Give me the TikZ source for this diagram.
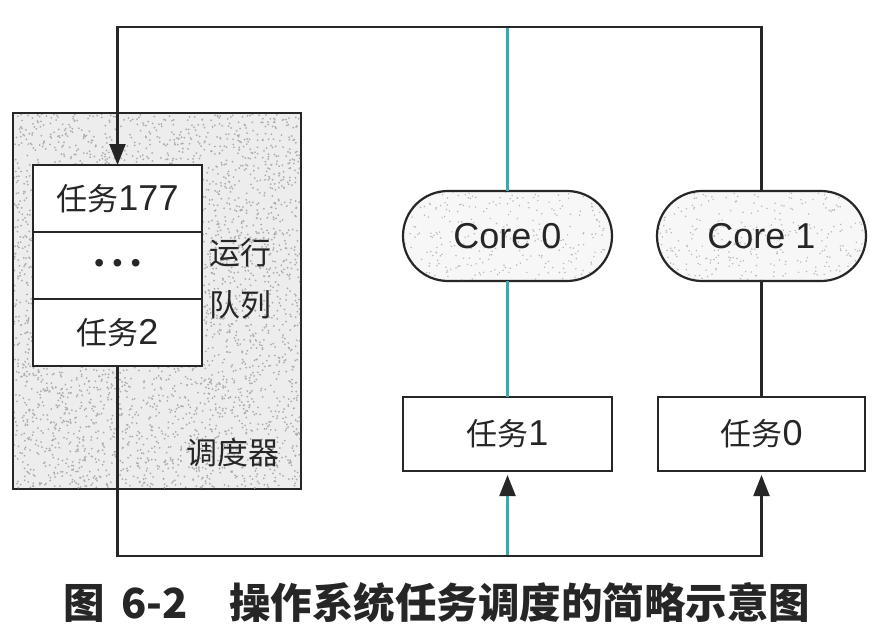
\documentclass[tikz,border=0pt]{standalone}
\usepackage{fontspec}
\setmainfont{Liberation Sans}
\newfontfamily\cjk{Noto Sans CJK SC}
\usetikzlibrary{arrows.meta,shapes.misc}
\definecolor{ink}{RGB}{38,38,38}
\definecolor{tealc}{RGB}{55,170,172}
\newcommand{\cjktxt}{\fontsize{31}{33}\selectfont\cjk}
\newcommand{\lattxt}{\fontsize{36}{38}\selectfont}
\begin{document}
\begin{tikzpicture}[x=1pt,y=-1pt,
  every node/.style={inner sep=0pt,outer sep=0pt},
  box/.style={draw=ink,line width=2.2pt,fill=white,rectangle},
  stad/.style={draw=ink,line width=2.2pt,rounded rectangle,fill=gray!6,minimum width=209,minimum height=90},
  conn/.style={draw=ink,line width=2.2pt},
  tline/.style={draw=tealc,line width=2.2pt},
  tip/.style={-{Triangle[length=21pt,width=16pt,color=ink]}},
  lbl/.style={text=ink}
]
\useasboundingbox (0,0) rectangle (872,637);
\fill[white] (0,0) rectangle (872,637);

% scheduler
\node[box,fill=gray!14,minimum width=288,minimum height=376] (sched) at (157,301) {};
\begin{scope}
  \clip (14,114) rectangle (300,488);
  \pgfmathsetseed{42}
  \foreach \i in {1,...,3600}{
    \pgfmathsetmacro\rx{14+286*rnd}
    \pgfmathsetmacro\ry{114+374*rnd}
    \fill[gray!65] (\rx,\ry) circle (1pt);
  }
\end{scope}

% cores
\node[stad] (core0) at (507.5,236) {};
\node[stad] (core1) at (761.5,236) {};
\foreach \cx in {507.5,761.5}{
  \begin{scope}
    \clip[rounded corners=44pt] (\cx-103,192) rectangle (\cx+103,280);
    \foreach \i in {1,...,300}{
      \pgfmathsetmacro\rx{\cx-103+206*rnd}
      \pgfmathsetmacro\ry{192+88*rnd}
      \fill[gray!55] (\rx,\ry) circle (0.85pt);
    }
  \end{scope}
}
\node[lbl,font=\lattxt] at (core0) {Core 0};
\node[lbl,font=\lattxt] at (core1) {Core 1};

% run queue
\node[box,minimum width=169,minimum height=67,lbl] (t177) at (117.5,198.5) {{\cjktxt 任务}{\lattxt 177}};
\node[box,minimum width=169,minimum height=67,lbl] (tdots) at (117.5,265.5) {{\fontsize{28}{28}\selectfont •\hspace{0.3em}•\hspace{0.3em}•}};
\node[box,minimum width=169,minimum height=67,lbl] (t2) at (117.5,332.5) {{\cjktxt 任务}{\lattxt 2}};
\node[lbl,font=\cjktxt] (runA) at (240,253) {运行};
\node[lbl,font=\cjktxt] (runB) at (240,305) {队列};
\node[lbl,font=\cjktxt] (schedlbl) at (233,453) {调度器};

% tasks on cores
\node[box,minimum width=209,minimum height=74,lbl] (task1) at (507.5,434) {{\cjktxt 任务}{\lattxt 1}};
\node[box,minimum width=207,minimum height=74,lbl] (task0) at (761.5,434) {{\cjktxt 任务}{\lattxt 0}};

% coordinates
\coordinate (topL) at (117.5,27);
\coordinate (topM) at (507.5,27);
\coordinate (topR) at (761.5,27);
\coordinate (botL) at (117.5,556);
\coordinate (botM) at (507.5,556);
\coordinate (botR) at (761.5,556);

% teal core 0 line
\draw[tline] (topM) -- (core0.north);
\draw[tline] (core0.south) -- (task1.north);
\draw[tline,tip,shorten >=4pt] (botM) -- (task1.south);

% black connectors
\draw[conn,tip] (core1.north) -- (topR) -- (topL) -- (t177.north);
\draw[conn] (core1.south) -- (task0.north);
\draw[conn,tip,shorten >=4pt] (t2.south) -- (botL) -- (botR) -- (task0.south);

% caption
\node[text=ink,font=\fontsize{41.5}{44}\selectfont\cjk\bfseries] (cap) at (437,603) {图\hspace{0.4em}6-2\hspace{1em}操作系统任务调度的简略示意图};
\end{tikzpicture}
\end{document}
